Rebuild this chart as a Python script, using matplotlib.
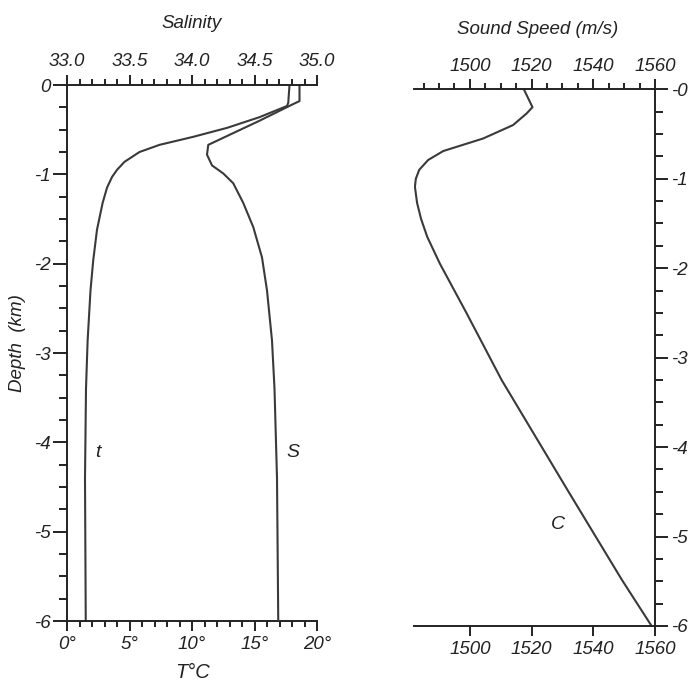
import matplotlib
matplotlib.use("Agg")
import matplotlib.pyplot as plt
from matplotlib.ticker import MultipleLocator, FixedLocator, FixedFormatter

plt.rcParams['font.family'] = ['Liberation Sans', 'DejaVu Sans']
plt.rcParams['font.style'] = 'italic'
plt.rcParams['axes.unicode_minus'] = False

# ---- data (depth in km, positive downward) ----
T_depth = [0.0, 0.2, 0.235, 0.36, 0.48, 0.58, 0.67, 0.75, 0.86, 0.95, 1.03, 1.15, 1.32, 1.62, 1.96, 2.30, 2.86, 3.4, 4.4, 6.0]
T_vals = [17.8, 17.7, 17.6, 15.4, 12.8, 10.1, 7.4, 5.8, 4.6, 4.0, 3.6, 3.2, 2.85, 2.4, 2.1, 1.88, 1.65, 1.52, 1.44, 1.5]

S_depth = [0.0, 0.18, 0.22, 0.40, 0.67, 0.78, 0.90, 0.99, 1.10, 1.32, 1.59, 1.93, 2.30, 2.86, 3.4, 4.4, 6.0]
S_vals = [34.86, 34.86, 34.80, 34.54, 34.13, 34.12, 34.16, 34.25, 34.33, 34.41, 34.49, 34.56, 34.60, 34.64, 34.66, 34.68, 34.69]

C_depth = [0.0, 0.2, 0.27, 0.40, 0.55, 0.69, 0.79, 0.90, 1.0, 1.09, 1.27, 1.45, 1.65, 1.95, 2.50, 3.25, 4.5, 5.48, 6.0]
C_vals = [1517.5, 1520.3, 1518.4, 1514.0, 1504.3, 1491.4, 1486.5, 1483.6, 1482.5, 1482.2, 1482.9, 1484.2, 1486.2, 1490.3, 1498.9, 1510.3, 1532.0, 1549.2, 1558.9]

T_ticks = [0, 5, 10, 15, 20]
T_labels = ["0°", "5°", "10°", "15°", "20°"]
S_ticks = [33.0, 33.5, 34.0, 34.5, 35.0]
S_labels = ["33.0", "33.5", "34.0", "34.5", "35.0"]
C_ticks = [1500, 1520, 1540, 1560]
C_labels = ["1500", "1520", "1540", "1560"]
D_ticks = [0, -1, -2, -3, -4, -5, -6]
D_labels_left = ["0", "-1", "-2", "-3", "-4", "-5", "-6"]
D_labels_right = ["-0", "-1", "-2", "-3", "-4", "-5", "-6"]

W, H = 688, 682
fig = plt.figure(figsize=(W / 100, H / 100), dpi=100)

line_col = '#3a3a3a'
txt_col = '#222222'
lw_ax = 1.4
tick_fs = 13.5
lab_fs = 13.5

def style_spines(ax, visible):
    for k, s in ax.spines.items():
        s.set_visible(k in visible)
        s.set_linewidth(lw_ax)
        s.set_color('#222222')

# ---------------- left panel ----------------
axT = fig.add_axes([67 / W, (H - 621) / H, 250 / W, 536 / H])
axT.set_xlim(0, 20)
axT.set_ylim(-6, 0)
axT.plot(T_vals, [-d for d in T_depth], color=line_col, lw=1.5)
style_spines(axT, ['left', 'bottom'])
axT.xaxis.set_major_locator(FixedLocator(T_ticks))
axT.xaxis.set_major_formatter(FixedFormatter(T_labels))
axT.xaxis.set_minor_locator(MultipleLocator(1))
axT.yaxis.set_major_locator(FixedLocator(D_ticks))
axT.yaxis.set_major_formatter(FixedFormatter(D_labels_left))
axT.yaxis.set_minor_locator(MultipleLocator(0.25))
axT.tick_params(axis='x', which='major', direction='out', length=7.5, width=lw_ax, pad=3, labelsize=tick_fs, colors=txt_col)
axT.tick_params(axis='x', which='minor', direction='out', length=4, width=lw_ax, colors=txt_col)
axT.tick_params(axis='y', which='major', direction='out', length=10, width=lw_ax, pad=2, labelsize=tick_fs, colors=txt_col)
axT.tick_params(axis='y', which='minor', direction='out', length=6, width=lw_ax, colors=txt_col)

axS = axT.twiny()
axS.set_xlim(33.0, 35.0)
axS.plot(S_vals, [-d for d in S_depth], color=line_col, lw=1.5)
style_spines(axS, ['top'])
axS.xaxis.set_major_locator(FixedLocator(S_ticks))
axS.xaxis.set_major_formatter(FixedFormatter(S_labels))
axS.xaxis.set_minor_locator(MultipleLocator(0.1))
axS.tick_params(axis='x', which='major', direction='out', length=7.5, width=lw_ax, pad=3, labelsize=tick_fs, colors=txt_col)
axS.tick_params(axis='x', which='minor', direction='out', length=4, width=lw_ax, colors=txt_col)

axT.text(2.5, -4.11, 't', fontsize=14, ha='center', va='center', color=txt_col)
axT.text(18.1, -4.11, 'S', fontsize=14, ha='center', va='center', color=txt_col)

fig.text(192 / W, 1 - 24 / H, 'Salinity', fontsize=lab_fs, ha='center', va='center', color=txt_col)
fig.text(193 / W, 1 - 672 / H, 'T°C', fontsize=lab_fs + 1, ha='center', va='center', color=txt_col)
fig.text(18 / W, 1 - 343 / H, 'Depth  (km)', fontsize=lab_fs, ha='center', va='center', rotation=90, color=txt_col)

# ---------------- right panel ----------------
axC = fig.add_axes([414.3 / W, (H - 626) / H, 240.7 / W, 536.7 / H])
axC.set_xlim(1482, 1560)
axC.set_ylim(-6, 0)
axC.plot(C_vals, [-d for d in C_depth], color=line_col, lw=1.5)
style_spines(axC, ['right', 'bottom'])
axC.xaxis.set_major_locator(FixedLocator(C_ticks))
axC.xaxis.set_major_formatter(FixedFormatter(C_labels))
axC.xaxis.set_minor_locator(FixedLocator([]))
axC.yaxis.tick_right()
axC.yaxis.set_major_locator(FixedLocator(D_ticks))
axC.yaxis.set_major_formatter(FixedFormatter(D_labels_right))
axC.yaxis.set_minor_locator(MultipleLocator(0.25))
axC.tick_params(axis='x', which='major', direction='out', length=7.5, width=lw_ax, pad=3, labelsize=tick_fs, colors=txt_col)
axC.tick_params(axis='y', which='major', direction='out', length=9, width=lw_ax, pad=2.5, labelsize=tick_fs, colors=txt_col)
axC.tick_params(axis='y', which='minor', direction='out', length=6, width=lw_ax, colors=txt_col)

axCt = axC.twiny()
axCt.set_xlim(1482, 1560)
style_spines(axCt, ['top'])
axCt.xaxis.set_major_locator(FixedLocator(C_ticks))
axCt.xaxis.set_major_formatter(FixedFormatter(C_labels))
axCt.xaxis.set_minor_locator(MultipleLocator(5))
axCt.tick_params(axis='x', which='major', direction='out', length=7.5, width=lw_ax, pad=3, labelsize=tick_fs, colors=txt_col)
axCt.tick_params(axis='x', which='minor', direction='out', length=4, width=lw_ax, colors=txt_col)

axC.text(1528.5, -4.87, 'C', fontsize=14, ha='center', va='center', color=txt_col)
fig.text(538 / W, 1 - 30 / H, 'Sound Speed (m/s)', fontsize=lab_fs, ha='center', va='center', color=txt_col)

fig.savefig('out.png', dpi=100)
